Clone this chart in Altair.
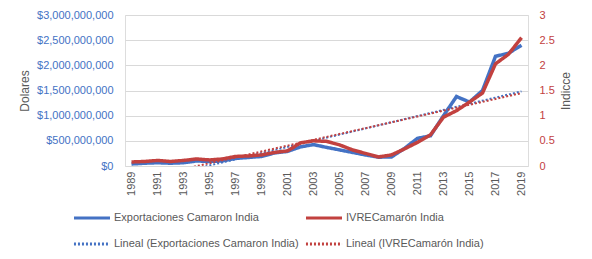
import altair as alt
import pandas as pd

years = list(range(1989, 2020))
# Exportaciones (USD)
exportaciones = [40e6, 55e6, 65e6, 55e6, 65e6, 100e6, 90e6, 100e6, 150e6, 170e6,
                 190e6, 260e6, 290e6, 380e6, 425e6, 370e6, 320e6, 270e6, 220e6, 175e6,
                 180e6, 350e6, 550e6, 600e6, 1000e6, 1380e6, 1270e6, 1500e6, 2180e6, 2240e6,
                 2400e6]
# IVRE index
ivre = [0.08, 0.09, 0.11, 0.09, 0.11, 0.14, 0.12, 0.14, 0.19, 0.20,
        0.22, 0.27, 0.30, 0.46, 0.50, 0.49, 0.42, 0.32, 0.25, 0.18,
        0.22, 0.34, 0.47, 0.62, 0.97, 1.10, 1.27, 1.45, 2.03, 2.22,
        2.55]

s_exp = "Exportaciones Camaron India"
s_iv = "IVRECamarón India"
t_exp = "Lineal (Exportaciones Camaron India)"
t_iv = "Lineal (IVRECamarón India)"
series_order = [s_exp, t_exp, s_iv, t_iv]

BLUE = "#4472C4"
RED = "#C2413F"
GREY = "#595959"
FONT = "Liberation Sans"

df_exp = pd.DataFrame({"year": years, "value": exportaciones, "serie": s_exp})
df_iv = pd.DataFrame({"year": years, "value": ivre, "serie": s_iv})

x_enc = alt.X("year:Q",
              scale=alt.Scale(domain=[1988.5, 2019.5], nice=False, zero=False),
              axis=alt.Axis(values=list(range(1989, 2020, 2)), format="d", labelAngle=-90,
                            title=None, grid=False, ticks=False, tickSize=0, domain=False,
                            labelColor=GREY, labelFontSize=11, labelFont=FONT, labelPadding=5))

color_enc = alt.Color("serie:N",
                      scale=alt.Scale(domain=series_order, range=[BLUE, BLUE, RED, RED]),
                      legend=alt.Legend(title=None, orient="none", legendX=-53, legendY=183,
                                        values=series_order,
                                        columns=2, symbolType="stroke", symbolSize=1300,
                                        symbolStrokeWidth=3, labelColor=GREY, labelFontSize=11,
                                        labelFont=FONT, labelLimit=400, columnPadding=0,
                                        rowPadding=-12, labelOffset=2))
dash_enc = alt.StrokeDash("serie:N",
                          scale=alt.Scale(domain=series_order,
                                          range=[[1, 0], [2, 2], [1, 0], [2, 2]]),
                          legend=alt.Legend(title=None, values=series_order))

left_axis = alt.Axis(values=[0, 5e8, 1e9, 1.5e9, 2e9, 2.5e9, 3e9], format="$,.0f",
                     title="Dolares", titleColor=GREY, titleFontSize=12, titleFontWeight="normal",
                     titleFont=FONT, titlePadding=5,
                     labelColor=BLUE, labelFontSize=11, labelFont=FONT, labelPadding=12,
                     grid=True, gridColor="#D9D9D9", domain=False, ticks=False, tickSize=0)
right_axis = alt.Axis(values=[0, 0.5, 1, 1.5, 2, 2.5, 3], format="~g", orient="right",
                      title="Indicce", titleColor=GREY, titleFontSize=12, titleFontWeight="normal",
                      titleFont=FONT, titlePadding=6, titleAngle=270, titleBaseline="top",
                      labelColor=RED, labelFontSize=11, labelFont=FONT, labelPadding=11,
                      grid=False, domain=False, ticks=False, tickSize=0)

y_left = alt.Y("value:Q", scale=alt.Scale(domain=[0, 3e9], nice=False), axis=left_axis)
y_right = alt.Y("value:Q", scale=alt.Scale(domain=[0, 3], nice=False), axis=right_axis)

line_exp = alt.Chart(df_exp).mark_line(strokeWidth=3.5).encode(
    x=x_enc, y=y_left, color=color_enc, strokeDash=dash_enc)
trend_exp = alt.Chart(df_exp).transform_regression("year", "value").transform_calculate(
    serie=f"'{t_exp}'").mark_line(strokeWidth=2, clip=True).encode(
    x=x_enc, y=y_left, color=color_enc, strokeDash=dash_enc)

line_iv = alt.Chart(df_iv).mark_line(strokeWidth=3.5).encode(
    x=x_enc, y=y_right, color=color_enc, strokeDash=dash_enc)
trend_iv = alt.Chart(df_iv).transform_regression("year", "value").transform_calculate(
    serie=f"'{t_iv}'").mark_line(strokeWidth=2, clip=True).encode(
    x=x_enc, y=y_right, color=color_enc, strokeDash=dash_enc)

left = alt.layer(line_exp, trend_exp)
right = alt.layer(line_iv, trend_iv)

chart = alt.layer(left, right).resolve_scale(y="independent").properties(
    width=403, height=151,
    autosize=alt.AutoSizeParams(type="none"),
    padding={"left": 117, "top": 7, "right": 48, "bottom": 85},
).configure_view(stroke=None).configure(font=FONT)

chart.save("out.html", embed_options={"renderer": "svg", "actions": False})
